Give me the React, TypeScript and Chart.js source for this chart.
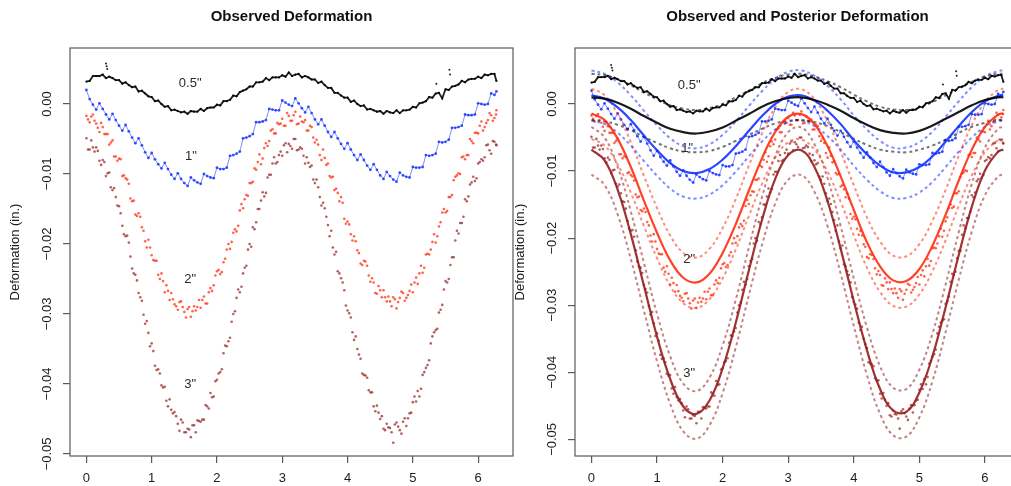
import React, { useEffect, useRef } from "react";
import { Chart, registerables } from "chart.js";
Chart.register(...registerables);

// ---------- data ----------
const xObs = [0,0.05,0.1,0.15,0.2,0.25,0.3,0.35,0.4,0.45,0.5,0.55,0.6,0.65,0.7,0.75,0.8,0.85,0.9,0.95,1,1.05,1.1,1.15,1.2,1.25,1.3,1.35,1.4,1.45,1.5,1.55,1.6,1.65,1.7,1.75,1.8,1.85,1.9,1.95,2,2.05,2.1,2.15,2.2,2.25,2.3,2.35,2.4,2.45,2.5,2.55,2.6,2.65,2.7,2.75,2.8,2.85,2.9,2.95,3,3.05,3.1,3.15,3.2,3.25,3.3,3.35,3.4,3.45,3.5,3.55,3.6,3.65,3.7,3.75,3.8,3.85,3.9,3.95,4,4.05,4.1,4.15,4.2,4.25,4.3,4.35,4.4,4.45,4.5,4.55,4.6,4.65,4.7,4.75,4.8,4.85,4.9,4.95,5,5.05,5.1,5.15,5.2,5.25,5.3,5.35,5.4,5.45,5.5,5.55,5.6,5.65,5.7,5.75,5.8,5.85,5.9,5.95,6,6.05,6.1,6.15,6.2,6.25,6.28];

// second pass of readings, taken between the first ones
const xObsB = [0.025,0.075,0.125,0.175,0.225,0.275,0.325,0.375,0.425,0.475,0.525,0.575,0.625,0.675,0.725,0.775,0.825,0.875,0.925,0.975,1.025,1.075,1.125,1.175,1.225,1.275,1.325,1.375,1.425,1.475,1.525,1.575,1.625,1.675,1.725,1.775,1.825,1.875,1.925,1.975,2.025,2.075,2.125,2.175,2.225,2.275,2.325,2.375,2.425,2.475,2.525,2.575,2.625,2.675,2.725,2.775,2.825,2.875,2.925,2.975,3.025,3.075,3.125,3.175,3.225,3.275,3.325,3.375,3.425,3.475,3.525,3.575,3.625,3.675,3.725,3.775,3.825,3.875,3.925,3.975,4.025,4.075,4.125,4.175,4.225,4.275,4.325,4.375,4.425,4.475,4.525,4.575,4.625,4.675,4.725,4.775,4.825,4.875,4.925,4.975,5.025,5.075,5.125,5.175,5.225,5.275,5.325,5.375,5.425,5.475,5.525,5.575,5.625,5.675,5.725,5.775,5.825,5.875,5.925,5.975,6.025,6.075,6.125,6.175,6.225,6.275];

const obsHalfInch = [0.0032,0.0033,0.0040,0.0040,0.0040,0.0042,0.0037,0.0039,0.0037,0.0034,
0.0034,0.0029,0.0031,0.0027,0.0024,0.0025,0.0018,0.0019,0.0015,0.0011,
0.0010,0.0004,0.0005,0,-0.0004,-0.0003,-0.0009,-0.0008,-0.0010,-0.0012,
-0.0011,-0.0014,-0.0010,-0.0011,-0.0011,-0.0007,-0.0010,-0.0006,-0.0005,-0.0005,
-0.0001,-0.0002,0.0004,0.0004,0.0006,0.0012,0.0011,0.0017,0.0019,0.0021,
0.0025,0.0025,0.0031,0.0031,0.0032,0.0037,0.0034,0.0038,0.0038,0.0038,
0.0041,0.0039,0.0045,0.0040,0.0042,0.0043,0.0038,0.0040,0.0038,0.0035,
0.0035,0.0030,0.0032,0.0027,0.0023,0.0023,0.0016,0.0016,0.0012,0.0009,
0.0009,0.0003,0.0005,0,-0.0003,-0.0002,-0.0008,-0.0007,-0.0009,-0.0011,
-0.0010,-0.0014,-0.0010,-0.0012,-0.0013,-0.0009,-0.0013,-0.0009,-0.0009,-0.0008,
-0.0004,-0.0005,0.0001,0.0002,0.0004,0.0010,0.0009,0.0015,0.0016,0.0008,
0.0021,0.0020,0.0025,0.0026,0.0028,0.0033,0.0031,0.0035,0.0036,0.0036,
0.0039,0.0037,0.0042,0.0041,0.0043,0.0043,0.0033];

const obsOneInch = [0.0020,0.0007,-0.0001,-0.0008,0.0001,-0.0007,-0.0015,-0.0022,-0.0014,-0.0023,
-0.0031,-0.0038,-0.0030,-0.0039,-0.0048,-0.0056,-0.0049,-0.0059,-0.0069,-0.0077,
-0.0070,-0.0079,-0.0086,-0.0092,-0.0084,-0.0093,-0.0101,-0.0107,-0.0099,-0.0107,
-0.0113,-0.0117,-0.0105,-0.0109,-0.0112,-0.0114,-0.0100,-0.0103,-0.0105,-0.0106,
-0.0091,-0.0093,-0.0093,-0.0091,-0.0074,-0.0073,-0.0071,-0.0068,-0.0049,-0.0048,
-0.0046,-0.0043,-0.0026,-0.0026,-0.0025,-0.0023,-0.0007,-0.0008,-0.0009,-0.0009,
0.0005,0.0002,-0.0001,-0.0003,0.0008,0.0001,-0.0006,-0.0012,-0.0004,-0.0013,
-0.0022,-0.0029,-0.0022,-0.0031,-0.0040,-0.0047,-0.0040,-0.0049,-0.0057,-0.0064,
-0.0056,-0.0065,-0.0073,-0.0080,-0.0072,-0.0080,-0.0088,-0.0094,-0.0086,-0.0094,
-0.0102,-0.0107,-0.0097,-0.0103,-0.0108,-0.0111,-0.0098,-0.0102,-0.0104,-0.0105,
-0.0090,-0.0091,-0.0091,-0.0090,-0.0073,-0.0074,-0.0073,-0.0071,-0.0054,-0.0055,
-0.0054,-0.0051,-0.0034,-0.0034,-0.0033,-0.0031,-0.0015,-0.0016,-0.0016,-0.0015,
0.0001,0,-0.0001,0,0.0015,0.0013,0.0018];

const obsTwoInch = [-0.0017,-0.0026,-0.0015,-0.0028,-0.0040,-0.0033,-0.0043,-0.0058,-0.0052,-0.0075,
-0.0078,-0.0103,-0.0106,-0.0114,-0.0139,-0.0158,-0.0156,-0.0176,-0.0196,-0.0194,
-0.0216,-0.0224,-0.0244,-0.0242,-0.0269,-0.0267,-0.0270,-0.0286,-0.0294,-0.0282,
-0.0297,-0.0293,-0.0304,-0.0289,-0.0290,-0.0291,-0.0275,-0.0285,-0.0263,-0.0259,
-0.0239,-0.0243,-0.0226,-0.0208,-0.0207,-0.0184,-0.0182,-0.0152,-0.0149,-0.0130,
-0.0113,-0.0111,-0.0094,-0.0072,-0.0078,-0.0056,-0.0053,-0.0036,-0.0042,-0.0029,
-0.0021,-0.0031,-0.0017,-0.0024,-0.0011,-0.0028,-0.0025,-0.0023,-0.0038,-0.0033,
-0.0055,-0.0058,-0.0080,-0.0077,-0.0085,-0.0105,-0.0123,-0.0127,-0.0133,-0.0164,
-0.0168,-0.0186,-0.0189,-0.0209,-0.0228,-0.0224,-0.0231,-0.0254,-0.0255,-0.0271,
-0.0266,-0.0266,-0.0282,-0.0282,-0.0276,-0.0292,-0.0277,-0.0270,-0.0277,-0.0267,
-0.0269,-0.0248,-0.0242,-0.0241,-0.0215,-0.0215,-0.0197,-0.0198,-0.0175,-0.0155,
-0.0155,-0.0133,-0.0130,-0.0104,-0.0099,-0.0076,-0.0079,-0.0073,-0.0053,-0.0041,
-0.0042,-0.0025,-0.0033,-0.0023,-0.0016,-0.0020,-0.0009];

const obsTwoInchB = [-0.0022,-0.0018,-0.0024,-0.0034,-0.0027,-0.0043,-0.0043,-0.0055,-0.0075,-0.0081,
-0.0079,-0.0102,-0.0108,-0.0135,-0.0138,-0.0160,-0.0161,-0.0181,-0.0205,-0.0205,
-0.0223,-0.0224,-0.0250,-0.0253,-0.0259,-0.0280,-0.0279,-0.0289,-0.0283,-0.0290,
-0.0305,-0.0290,-0.0296,-0.0295,-0.0280,-0.0280,-0.0285,-0.0269,-0.0267,-0.0245,
-0.0237,-0.0240,-0.0221,-0.0200,-0.0197,-0.0179,-0.0174,-0.0143,-0.0136,-0.0131,
-0.0113,-0.0092,-0.0083,-0.0086,-0.0063,-0.0060,-0.0038,-0.0042,-0.0027,-0.0028,
-0.0031,-0.0013,-0.0024,-0.0016,-0.0029,-0.0018,-0.0026,-0.0038,-0.0031,-0.0048,
-0.0051,-0.0073,-0.0065,-0.0087,-0.0103,-0.0104,-0.0121,-0.0139,-0.0141,-0.0171,
-0.0172,-0.0195,-0.0196,-0.0213,-0.0230,-0.0225,-0.0245,-0.0249,-0.0270,-0.0260,
-0.0276,-0.0276,-0.0275,-0.0289,-0.0279,-0.0283,-0.0268,-0.0281,-0.0273,-0.0258,
-0.0255,-0.0257,-0.0231,-0.0234,-0.0214,-0.0208,-0.0186,-0.0189,-0.0169,-0.0150,
-0.0153,-0.0133,-0.0109,-0.0102,-0.0100,-0.0075,-0.0073,-0.0050,-0.0056,-0.0041,
-0.0031,-0.0038,-0.0027,-0.0013,-0.0024,-0.0015];

const obsThreeInch = [-0.0049,-0.0065,-0.0062,-0.0062,-0.0081,-0.0080,-0.0103,-0.0098,-0.0123,-0.0133,
-0.0146,-0.0174,-0.0189,-0.0198,-0.0235,-0.0244,-0.0270,-0.0281,-0.0314,-0.0327,
-0.0342,-0.0374,-0.0379,-0.0402,-0.0404,-0.0432,-0.0437,-0.0440,-0.0457,-0.0451,
-0.0469,-0.0464,-0.0476,-0.0459,-0.0452,-0.0454,-0.0451,-0.0432,-0.0413,-0.0418,
-0.0394,-0.0383,-0.0356,-0.0346,-0.0334,-0.0300,-0.0277,-0.0269,-0.0242,-0.0231,
-0.0200,-0.0176,-0.0169,-0.0150,-0.0126,-0.0127,-0.0101,-0.0085,-0.0085,-0.0073,
-0.0074,-0.0056,-0.0057,-0.0064,-0.0050,-0.0065,-0.0064,-0.0085,-0.0084,-0.0088,
-0.0113,-0.0119,-0.0145,-0.0149,-0.0173,-0.0181,-0.0215,-0.0239,-0.0249,-0.0266,
-0.0295,-0.0305,-0.0337,-0.0350,-0.0364,-0.0387,-0.0391,-0.0412,-0.0432,-0.0431,
-0.0450,-0.0464,-0.0457,-0.0463,-0.0484,-0.0455,-0.0466,-0.0454,-0.0460,-0.0442,
-0.0426,-0.0425,-0.0418,-0.0387,-0.0377,-0.0366,-0.0332,-0.0323,-0.0298,-0.0287,
-0.0253,-0.0250,-0.0219,-0.0195,-0.0185,-0.0170,-0.0136,-0.0132,-0.0112,-0.0110,
-0.0085,-0.0079,-0.0076,-0.0058,-0.0071,-0.0054,-0.0059];

const obsThreeInchB = [-0.0065,-0.0052,-0.0068,-0.0067,-0.0087,-0.0083,-0.0099,-0.0119,-0.0120,-0.0145,
-0.0156,-0.0186,-0.0188,-0.0218,-0.0242,-0.0252,-0.0276,-0.0301,-0.0310,-0.0346,
-0.0353,-0.0380,-0.0385,-0.0405,-0.0424,-0.0422,-0.0442,-0.0446,-0.0467,-0.0455,
-0.0469,-0.0465,-0.0459,-0.0469,-0.0453,-0.0451,-0.0430,-0.0435,-0.0419,-0.0396,
-0.0385,-0.0379,-0.0345,-0.0339,-0.0311,-0.0296,-0.0265,-0.0261,-0.0234,-0.0208,
-0.0204,-0.0179,-0.0150,-0.0138,-0.0132,-0.0105,-0.0101,-0.0076,-0.0083,-0.0068,
-0.0059,-0.0069,-0.0060,-0.0050,-0.0066,-0.0062,-0.0074,-0.0076,-0.0090,-0.0108,
-0.0108,-0.0133,-0.0141,-0.0161,-0.0189,-0.0205,-0.0211,-0.0242,-0.0255,-0.0288,
-0.0299,-0.0326,-0.0332,-0.0358,-0.0385,-0.0388,-0.0409,-0.0412,-0.0439,-0.0441,
-0.0446,-0.0466,-0.0462,-0.0469,-0.0458,-0.0461,-0.0471,-0.0449,-0.0449,-0.0441,
-0.0418,-0.0410,-0.0407,-0.0383,-0.0373,-0.0342,-0.0326,-0.0321,-0.0294,-0.0265,
-0.0255,-0.0230,-0.0219,-0.0181,-0.0170,-0.0161,-0.0139,-0.0115,-0.0104,-0.0106,
-0.0083,-0.0081,-0.0059,-0.0066,-0.0053,-0.0058];

const xOutlier = [0.30, 0.31, 0.32, 5.36, 5.56, 5.57];
const yOutlier = [0.0058, 0.0054, 0.0050, 0.0029, 0.0049, 0.0042];

const xPost = [0,0.2,0.4,0.6,0.8,1,1.2,1.4,1.6,1.8,2,2.2,2.4,2.6,2.8,3,3.2,3.4,3.6,3.8,4,4.2,4.4,4.6,4.8,5,5.2,5.4,5.6,5.8,6,6.2,6.28];

const postHalfMean = [0.0010,0.0008,0.0002,-0.0007,-0.0018,-0.0028,-0.0037,-0.0042,-0.0044,-0.0041,-0.0035,-0.0025,-0.0015,-0.0004,0.0004,0.0009,0.0010,0.0006,-0.0001,-0.0010,-0.0021,-0.0031,-0.0039,-0.0043,-0.0044,-0.0040,-0.0032,-0.0022,-0.0012,-0.0002,0.0006,0.0010,0.0010];
const postHalfUpper = [0.0045,0.0043,0.0037,0.0028,0.0017,0.0007,-0.0002,-0.0007,-0.0009,-0.0006,0,0.0010,0.0020,0.0031,0.0039,0.0044,0.0045,0.0041,0.0034,0.0025,0.0014,0.0004,-0.0004,-0.0008,-0.0009,-0.0005,0.0003,0.0013,0.0023,0.0033,0.0041,0.0045,0.0045];
const postHalfLower = [-0.0024,-0.0026,-0.0031,-0.0039,-0.0049,-0.0058,-0.0066,-0.0071,-0.0072,-0.0070,-0.0064,-0.0055,-0.0046,-0.0037,-0.0029,-0.0025,-0.0024,-0.0027,-0.0033,-0.0042,-0.0052,-0.0061,-0.0068,-0.0071,-0.0072,-0.0068,-0.0062,-0.0053,-0.0043,-0.0034,-0.0028,-0.0024,-0.0024];

const postOneMean = [0.0013,0.0008,-0.0005,-0.0024,-0.0047,-0.0069,-0.0088,-0.0100,-0.0103,-0.0097,-0.0083,-0.0063,-0.0040,-0.0018,0,0.0011,0.0013,0.0005,-0.0010,-0.0030,-0.0054,-0.0075,-0.0092,-0.0102,-0.0102,-0.0094,-0.0078,-0.0056,-0.0033,-0.0012,0.0004,0.0012,0.0013];
const postOneUpper = [0.0050,0.0045,0.0032,0.0013,-0.0010,-0.0032,-0.0051,-0.0063,-0.0066,-0.0060,-0.0046,-0.0026,-0.0003,0.0019,0.0037,0.0048,0.0050,0.0042,0.0027,0.0007,-0.0017,-0.0038,-0.0055,-0.0065,-0.0065,-0.0057,-0.0041,-0.0019,0.0004,0.0025,0.0041,0.0049,0.0050];
const postOneLower = [-0.0025,-0.0030,-0.0043,-0.0062,-0.0085,-0.0107,-0.0126,-0.0138,-0.0141,-0.0135,-0.0121,-0.0101,-0.0078,-0.0056,-0.0038,-0.0027,-0.0025,-0.0033,-0.0048,-0.0068,-0.0092,-0.0113,-0.0130,-0.0140,-0.0140,-0.0132,-0.0116,-0.0094,-0.0071,-0.0050,-0.0034,-0.0026,-0.0025];

const postTwoMean = [-0.0014,-0.0024,-0.0052,-0.0094,-0.0144,-0.0192,-0.0233,-0.0259,-0.0266,-0.0253,-0.0222,-0.0179,-0.0129,-0.0081,-0.0042,-0.0019,-0.0015,-0.0030,-0.0063,-0.0108,-0.0158,-0.0206,-0.0242,-0.0263,-0.0264,-0.0246,-0.0211,-0.0165,-0.0114,-0.0068,-0.0034,-0.0016,-0.0014];
const postTwoUpper = [0.0023,0.0013,-0.0015,-0.0057,-0.0107,-0.0155,-0.0196,-0.0222,-0.0229,-0.0216,-0.0185,-0.0142,-0.0092,-0.0044,-0.0005,0.0018,0.0022,0.0007,-0.0026,-0.0071,-0.0121,-0.0169,-0.0205,-0.0226,-0.0227,-0.0209,-0.0174,-0.0128,-0.0077,-0.0031,0.0003,0.0021,0.0023];
const postTwoLower = [-0.0052,-0.0062,-0.0090,-0.0132,-0.0182,-0.0230,-0.0271,-0.0297,-0.0304,-0.0291,-0.0260,-0.0217,-0.0167,-0.0119,-0.0080,-0.0057,-0.0053,-0.0068,-0.0101,-0.0146,-0.0196,-0.0244,-0.0280,-0.0301,-0.0302,-0.0284,-0.0249,-0.0203,-0.0152,-0.0106,-0.0072,-0.0054,-0.0052];

const postThreeMean = [-0.0068,-0.0084,-0.0128,-0.0194,-0.0271,-0.0347,-0.0410,-0.0451,-0.0462,-0.0442,-0.0394,-0.0326,-0.0248,-0.0173,-0.0112,-0.0076,-0.0069,-0.0094,-0.0145,-0.0216,-0.0294,-0.0367,-0.0425,-0.0457,-0.0459,-0.0430,-0.0376,-0.0303,-0.0225,-0.0153,-0.0099,-0.0071,-0.0068];
const postThreeUpper = [-0.0034,-0.0050,-0.0094,-0.0160,-0.0237,-0.0313,-0.0376,-0.0417,-0.0428,-0.0408,-0.0360,-0.0292,-0.0214,-0.0139,-0.0078,-0.0042,-0.0035,-0.0060,-0.0111,-0.0182,-0.0260,-0.0333,-0.0391,-0.0423,-0.0425,-0.0396,-0.0342,-0.0269,-0.0191,-0.0119,-0.0065,-0.0037,-0.0034];
const postThreeLower = [-0.0105,-0.0121,-0.0165,-0.0231,-0.0308,-0.0384,-0.0447,-0.0488,-0.0499,-0.0479,-0.0431,-0.0363,-0.0285,-0.0210,-0.0149,-0.0113,-0.0106,-0.0131,-0.0182,-0.0253,-0.0331,-0.0404,-0.0462,-0.0494,-0.0496,-0.0467,-0.0413,-0.0340,-0.0262,-0.0190,-0.0136,-0.0108,-0.0105];

const xTicks = [0, 1, 2, 3, 4, 5, 6];
const yTicks = [0, -0.01, -0.02, -0.03, -0.04, -0.05];
const yTickLabels = ["0.00", "\u22120.01", "\u22120.02", "\u22120.03", "\u22120.04", "\u22120.05"];

const curveLabels = ['0.5"', '1"', '2"', '3"'];
const leftLabelX = [1.59, 1.6, 1.59, 1.59];
const leftLabelY = [0.0030, -0.0075, -0.0251, -0.0400];
const rightLabelX = [1.49, 1.46, 1.49, 1.49];
const rightLabelY = [0.0028, -0.0066, -0.0231, -0.0401];

// ---------- style ----------
const FONT = "'Liberation Sans', Arial, Helvetica, sans-serif";
const TXT = "#1c1c1c";
const AXIS = "#5a5a5a";
const BLACK = "rgba(0,0,0,0.88)";
const BLUE = "rgba(20,50,255,0.85)";
const BLUE_LINE = "rgba(20,50,255,0.55)";
const RED = "rgba(255,45,15,0.75)";
const DARKRED = "rgba(150,28,28,0.7)";

const pts = (xs: number[], ys: number[]) => xs.map((x, i) => ({ x, y: ys[i] }));

const rPlugin = {
  id: "rstyle",
  afterDraw(chart: any, _args: any, opts: any) {
    const { ctx, chartArea: a, scales } = chart;
    ctx.save();
    ctx.strokeStyle = AXIS;
    ctx.lineWidth = 1.2;
    ctx.strokeRect(a.left, a.top, a.right - a.left, a.bottom - a.top);
    ctx.fillStyle = TXT;
    ctx.font = `13px ${FONT}`;
    ctx.textAlign = "center";
    ctx.textBaseline = "middle";
    yTicks.forEach((v, i) => {
      const y = scales.y.getPixelForValue(v);
      ctx.save();
      ctx.translate(a.left - 23, y);
      ctx.rotate(-Math.PI / 2);
      ctx.fillText(yTickLabels[i], 0, 0);
      ctx.restore();
    });
    ctx.fillStyle = "#2a2a2a";
    const lx: number[] = opts.lx || [];
    const ly: number[] = opts.ly || [];
    curveLabels.forEach((t, i) => {
      ctx.fillText(t, scales.x.getPixelForValue(lx[i]), scales.y.getPixelForValue(ly[i]));
    });
    ctx.restore();
  },
};

function baseOptions(title: string, yMin: number, yMax: number, padRight: number, lx: number[], ly: number[]) {
  return {
    animation: false,
    responsive: false,
    maintainAspectRatio: false,
    devicePixelRatio: 1,
    events: [],
    layout: { padding: { left: 0, right: padRight, top: 0, bottom: 0 } },
    plugins: {
      legend: { display: false },
      tooltip: { enabled: false },
      title: {
        display: true,
        text: title,
        fullSize: false,
        color: "#111",
        font: { family: FONT, size: 15, weight: "bold" },
        padding: { top: 8, bottom: 22 },
      },
      rstyle: { lx, ly },
    },
    scales: {
      x: {
        type: "linear",
        min: -0.251,
        max: 6.534,
        afterBuildTicks: (s: any) => { s.ticks = xTicks.map((v) => ({ value: v })); },
        afterFit: (s: any) => { s.height = 30; },
        grid: { drawOnChartArea: false, drawTicks: true, tickLength: 7, color: AXIS, lineWidth: 1.2 },
        border: { display: false },
        ticks: { color: TXT, font: { family: FONT, size: 13 }, padding: 8, maxRotation: 0, autoSkip: false },
      },
      y: {
        type: "linear",
        min: yMin,
        max: yMax,
        afterBuildTicks: (s: any) => { s.ticks = yTicks.map((v) => ({ value: v })); },
        afterFit: (s: any) => { s.width = 70; },
        grid: { drawOnChartArea: false, drawTicks: true, tickLength: 7, color: AXIS, lineWidth: 1.2 },
        border: { display: false },
        ticks: { callback: () => "", padding: 0 },
        title: {
          display: true,
          text: "Deformation (in.)",
          color: TXT,
          font: { family: FONT, size: 13 },
          padding: { top: 8, bottom: 0 },
        },
      },
    },
  };
}

function dots(xs: number[], ys: number[], color: string, r: number) {
  return { data: pts(xs, ys), showLine: false, pointRadius: r, pointBorderWidth: 0, pointBackgroundColor: color };
}

function observedSets() {
  return [
    dots(xOutlier, yOutlier, BLACK, 1),
    { data: pts(xObs, obsHalfInch), showLine: true, borderColor: BLACK, borderWidth: 1.8, pointRadius: 1.1, pointBorderWidth: 0, pointBackgroundColor: BLACK },
    { data: pts(xObs, obsOneInch), showLine: true, borderColor: BLUE_LINE, borderWidth: 1, pointRadius: 1.4, pointBorderWidth: 0, pointBackgroundColor: BLUE },
    dots(xObs, obsTwoInch, RED, 1.3),
    dots(xObsB, obsTwoInchB, RED, 1.3),
    dots(xObs, obsThreeInch, DARKRED, 1.3),
    dots(xObsB, obsThreeInchB, DARKRED, 1.3),
  ];
}

function solid(ys: number[], color: string) {
  return { data: pts(xPost, ys), showLine: true, borderColor: color, borderWidth: 2.2, pointRadius: 0, tension: 0.4 };
}
function dashed(ys: number[], color: string) {
  return { data: pts(xPost, ys), showLine: true, borderColor: color, borderWidth: 2, borderDash: [3, 3], pointRadius: 0, tension: 0.4 };
}

function leftConfig(): any {
  return {
    type: "scatter",
    data: { datasets: observedSets() },
    options: baseOptions("Observed Deformation", -0.05029, 0.0080, 27, leftLabelX, leftLabelY),
    plugins: [rPlugin],
  };
}

function rightConfig(): any {
  return {
    type: "scatter",
    data: {
      datasets: [
        solid(postHalfMean, "rgba(0,0,0,0.9)"),
        solid(postOneMean, "rgba(20,50,255,0.9)"),
        solid(postTwoMean, "rgba(255,45,15,0.9)"),
        solid(postThreeMean, "rgba(150,28,28,0.9)"),
        dashed(postHalfUpper, "rgba(0,0,0,0.55)"),
        dashed(postHalfLower, "rgba(0,0,0,0.55)"),
        dashed(postOneUpper, "rgba(20,50,255,0.55)"),
        dashed(postOneLower, "rgba(20,50,255,0.55)"),
        dashed(postTwoUpper, "rgba(255,45,15,0.55)"),
        dashed(postTwoLower, "rgba(255,45,15,0.55)"),
        dashed(postThreeUpper, "rgba(150,28,28,0.55)"),
        dashed(postThreeLower, "rgba(150,28,28,0.55)"),
        ...observedSets(),
      ],
    },
    options: baseOptions("Observed and Posterior Deformation", -0.05248, 0.00835, 10, rightLabelX, rightLabelY),
    plugins: [rPlugin],
  };
}

function Panel({ left, width, make }: { left: number; width: number; make: () => any }) {
  const ref = useRef<HTMLCanvasElement>(null);
  useEffect(() => {
    const chart = new Chart(ref.current as HTMLCanvasElement, make());
    return () => chart.destroy();
  }, []);
  return (
    <canvas
      ref={ref}
      width={width}
      height={486}
      style={{ position: "absolute", left, top: 0, width, height: 486 }}
    />
  );
}

export default function App() {
  return (
    <div style={{ position: "fixed", left: 0, top: 0, width: 1011, height: 486, overflow: "hidden", background: "#fff" }}>
      <Panel left={0} width={540} make={leftConfig} />
      <Panel left={505} width={525} make={rightConfig} />
    </div>
  );
}
